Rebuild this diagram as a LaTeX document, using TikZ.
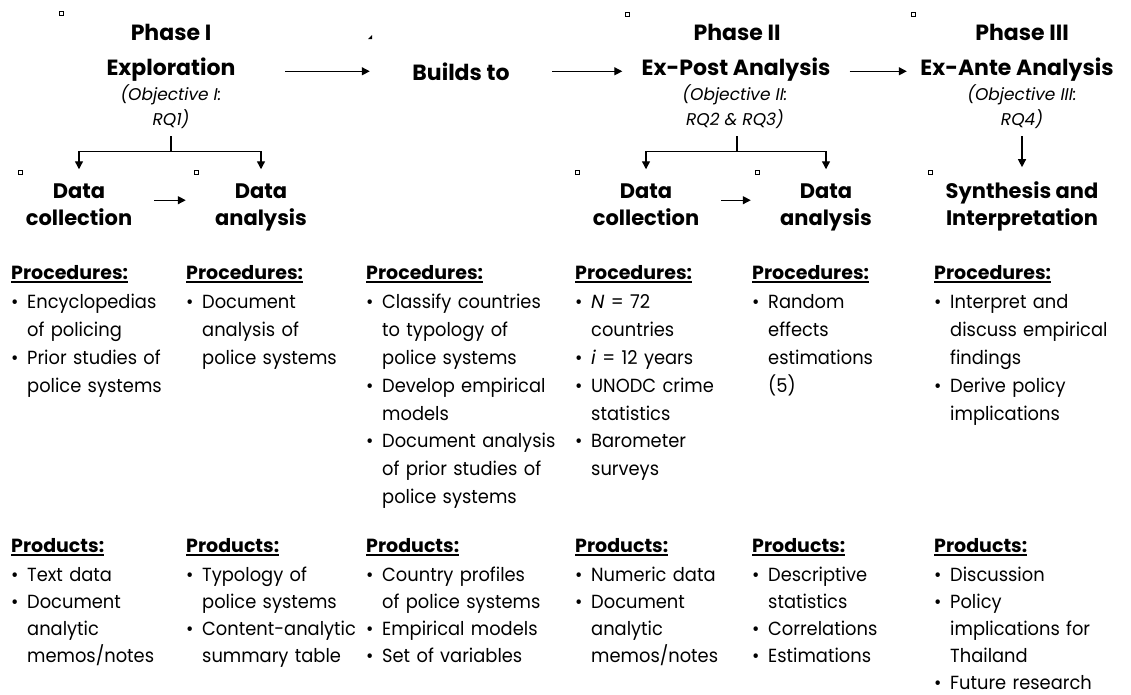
\documentclass[tikz,border=0pt]{standalone}
\usepackage{fontspec}
\setmainfont{Poppins}[UprightFeatures={FakeStretch=0.94}]
\usetikzlibrary{arrows.meta}

\newlength\hdwidth
\newcommand{\hd}[1]{\settowidth\hdwidth{\bfseries #1}\noindent\rlap{\rule[-3.5pt]{\hdwidth}{1.4pt}}{\bfseries #1}\par\vspace{2pt}}
\newcommand{\li}[1]{\par\hangindent=16pt\hangafter=1\noindent\makebox[16pt][l]{\textbullet}#1\par}

\tikzset{
  arr/.style={-{Triangle[length=8pt,width=8pt]},line width=1.3pt},
  phasebox/.style={font=\fontsize{22}{34}\selectfont\bfseries,inner sep=0pt,anchor=base},
  obj/.style={font=\fontsize{17}{25}\selectfont\itshape,align=center,inner sep=0pt,anchor=base},
  task/.style={font=\fontsize{21}{27}\selectfont\bfseries,align=center,inner sep=0pt,
    minimum width=150pt,outer ysep=14pt,anchor=base},
  list/.style={font=\fontsize{19}{27.8}\selectfont,text width=200pt,align=left,inner sep=0pt,anchor=base west},
  prodlist/.style={list,font=\fontsize{19}{27}\selectfont},
}

\begin{document}
\begin{tikzpicture}[x=1pt,y=-1pt]
\useasboundingbox (0,0) rectangle (1131,694);

% phases
\node[phasebox] (ph1) at (171,40) {Phase I};
\node[phasebox,minimum width=228pt] (ex1) at (171,75) {Exploration};
\node[phasebox,minimum width=182pt] (build) at (461,80) {Builds to};
\node[phasebox] (ph2) at (737,40) {Phase II};
\node[phasebox,minimum width=227pt] (ex2) at (736,75) {Ex-Post Analysis};
\node[phasebox] (ph3) at (1022,40) {Phase III};
\node[phasebox,minimum width=220pt] (ex3) at (1017,75) {Ex-Ante Analysis};

\draw[arr] (ex1.east |- build.east) -- (build.west);
\draw[arr] (build.east) -- (build.east -| ex2.west);
\draw[arr] (ex2.east |- build.east) -- (build.east -| ex3.west);

\node[obj] (obj1) at (171,125) {(Objective I:\\RQ1)};
\node[obj] (obj2) at (735,125) {(Objective II:\\RQ2 \& RQ3)};
\node[obj] (obj3) at (1022,125) {(Objective III:\\RQ4)};

% steps
\node[task] (dc1) at (79,225) {Data\\collection};
\node[task] (da1) at (261,225) {Data\\analysis};
\node[task] (dc2) at (646,225) {Data\\collection};
\node[task] (da2) at (826,225) {Data\\analysis};
\node[task] (syn) at (1022,225) {Synthesis and\\Interpretation};

\draw[line width=1.3pt] ([yshift=-8pt]obj1.south) -- ++(0,15) coordinate (sp1);
\draw[arr] (sp1) -| (dc1.north);
\draw[arr] (sp1) -| (da1.north);
\draw[line width=1.3pt] ([yshift=-8pt]obj2.south -| ph2.south) -- ++(0,15) coordinate (sp2);
\draw[arr] (sp2) -| (dc2.north);
\draw[arr] (sp2) -| (da2.north);
\draw[arr] ([yshift=-8pt]obj3.south) -- (syn.north);

\draw[arr] ([yshift=4pt]dc1.east) -- ([yshift=4pt]dc1.east -| da1.west);
\draw[arr] ([yshift=4pt]dc2.east) -- ([yshift=4pt]dc2.east -| da2.west);

% procedures
\node[list] (proc1) at (11,279) {\hd{Procedures:}\li{Encyclopedias\newline of policing}\li{Prior studies of\newline police systems}};
\node[list] (proc2) at (186,279) {\hd{Procedures:}\li{Document\newline analysis of\newline police systems}};
\node[list] (proc3) at (366,279) {\hd{Procedures:}\li{Classify countries\newline to typology of\newline police systems}\li{Develop empirical\newline models}\li{Document analysis\newline of prior studies of\newline police systems}};
\node[list] (proc4) at (575,279) {\hd{Procedures:}\li{\textit{N} = 72\newline countries}\li{\textit{i} = 12 years}\li{UNODC crime\newline statistics}\li{Barometer\newline surveys}};
\node[list] (proc5) at (752,279) {\hd{Procedures:}\li{Random\newline effects\newline estimations\newline (5)}};
\node[list] (proc6) at (934,279) {\hd{Procedures:}\li{Interpret and\newline discuss empirical\newline findings}\li{Derive policy\newline implications}};

% products
\node[prodlist] (prod1) at (11,552) {\hd{Products:}\li{Text data}\li{Document\newline analytic\newline memos/notes}};
\node[prodlist] (prod2) at (186,552) {\hd{Products:}\li{Typology of\newline police systems}\li{Content-analytic\newline summary table}};
\node[prodlist] (prod3) at (366,552) {\hd{Products:}\li{Country profiles\newline of police systems}\li{Empirical models}\li{Set of variables}};
\node[prodlist] (prod4) at (575,552) {\hd{Products:}\li{Numeric data}\li{Document\newline analytic\newline memos/notes}};
\node[prodlist] (prod5) at (752,552) {\hd{Products:}\li{Descriptive\newline statistics}\li{Correlations}\li{Estimations}};
\node[prodlist] (prod6) at (934,552) {\hd{Products:}\li{Discussion}\li{Policy\newline implications for\newline Thailand}\li{Future research}};

% small marks
\foreach \x/\y in {61/13,20/172,196/172,627/14,577/172,757/172,913/14,930/172}
  \draw[line width=0.7pt] (\x-2,\y-2) rectangle (\x+2,\y+2);
\fill (368,39) -- (372,35) -- (372,39) -- cycle;
\end{tikzpicture}
\end{document}
